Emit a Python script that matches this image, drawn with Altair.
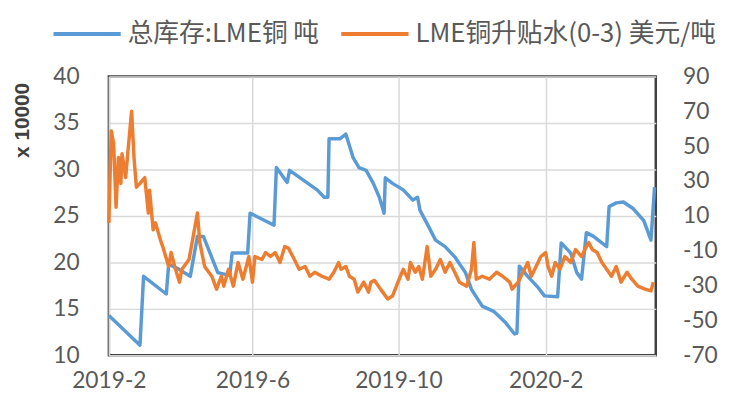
import altair as alt
import pandas as pd

series_names = ["总库存:LME铜 吨", "LME铜升贴水(0-3) 美元/吨"]
series_colors = ["#5B9BD5", "#ED7D31"]

# LME copper total stocks, x 10000 t (left axis)
stock_points = [
    ("2019-02-01", 14.3), ("2019-02-27", 11.1), ("2019-03-02", 18.5), ("2019-03-21", 16.6),
    ("2019-03-23", 19.8), ("2019-03-31", 19.3), ("2019-04-10", 18.5), ("2019-04-16", 22.8),
    ("2019-04-21", 22.8), ("2019-05-03", 18.9), ("2019-05-13", 18.6), ("2019-05-15", 21.0),
    ("2019-05-28", 21.0), ("2019-05-30", 25.3), ("2019-06-19", 24.0), ("2019-06-21", 30.2),
    ("2019-06-30", 28.6), ("2019-07-02", 29.9), ("2019-07-25", 27.8), ("2019-07-31", 27.0),
    ("2019-08-03", 27.0), ("2019-08-04", 33.3), ("2019-08-13", 33.3), ("2019-08-18", 33.8),
    ("2019-08-24", 31.3), ("2019-08-29", 30.2), ("2019-09-04", 29.9), ("2019-09-10", 28.5),
    ("2019-09-15", 27.0), ("2019-09-19", 25.3), ("2019-09-20", 29.1), ("2019-09-26", 28.5),
    ("2019-10-05", 27.8), ("2019-10-13", 26.7), ("2019-10-17", 27.0), ("2019-10-19", 25.6),
    ("2019-10-26", 23.9), ("2019-11-01", 22.4), ("2019-11-09", 21.7), ("2019-11-17", 20.6),
    ("2019-11-26", 18.9), ("2019-12-01", 17.1), ("2019-12-10", 15.3), ("2019-12-20", 14.7),
    ("2019-12-29", 13.6), ("2020-01-06", 12.3), ("2020-01-08", 12.4), ("2020-01-10", 19.6),
    ("2020-01-17", 18.5), ("2020-01-25", 17.4), ("2020-01-31", 16.4), ("2020-02-11", 16.3),
    ("2020-02-14", 22.1), ("2020-02-22", 21.0), ("2020-02-27", 18.9), ("2020-03-02", 18.2),
    ("2020-03-06", 23.2), ("2020-03-12", 22.8), ("2020-03-23", 21.7), ("2020-03-25", 26.0),
    ("2020-03-31", 26.4), ("2020-04-06", 26.5), ("2020-04-14", 25.8), ("2020-04-23", 24.5),
    ("2020-04-29", 22.4), ("2020-05-02", 28.1),
]

# LME copper 0-3 contango/backwardation, USD/t (right axis)
spread_points = [
    ("2019-02-01", 6.0), ("2019-02-03", 58.8), ("2019-02-05", 51.4), ("2019-02-07", 15.0),
    ("2019-02-09", 43.5), ("2019-02-11", 28.7), ("2019-02-12", 45.7), ("2019-02-15", 32.0),
    ("2019-02-17", 47.5), ("2019-02-20", 70.1), ("2019-02-22", 43.5), ("2019-02-24", 26.5),
    ("2019-02-27", 28.7), ("2019-03-03", 32.0), ("2019-03-06", 11.7), ("2019-03-07", 24.8),
    ("2019-03-10", 2.0), ("2019-03-12", 6.0), ("2019-03-16", -3.6), ("2019-03-18", -7.6),
    ("2019-03-23", -19.0), ("2019-03-25", -11.0), ("2019-03-28", -19.0), ("2019-04-01", -28.0),
    ("2019-04-03", -20.6), ("2019-04-09", -15.0), ("2019-04-13", 0.3), ("2019-04-16", 11.7),
    ("2019-04-18", -5.3), ("2019-04-22", -19.0), ("2019-04-28", -24.6), ("2019-05-02", -32.0),
    ("2019-05-06", -24.6), ("2019-05-08", -30.3), ("2019-05-12", -20.6), ("2019-05-16", -30.3),
    ("2019-05-20", -16.7), ("2019-05-24", -26.3), ("2019-05-29", -13.3), ("2019-06-01", -28.0),
    ("2019-06-03", -13.3), ("2019-06-09", -15.0), ("2019-06-12", -11.0), ("2019-06-16", -13.3),
    ("2019-06-20", -11.0), ("2019-06-24", -16.7), ("2019-06-28", -7.6), ("2019-07-01", -8.5),
    ("2019-07-06", -15.0), ("2019-07-10", -20.6), ("2019-07-15", -19.0), ("2019-07-19", -24.6),
    ("2019-07-23", -22.3), ("2019-07-29", -24.6), ("2019-08-04", -26.3), ("2019-08-08", -22.3),
    ("2019-08-12", -16.7), ("2019-08-14", -20.6), ("2019-08-18", -19.0), ("2019-08-21", -24.6),
    ("2019-08-25", -26.3), ("2019-08-28", -33.7), ("2019-09-02", -28.0), ("2019-09-06", -33.7),
    ("2019-09-08", -28.0), ("2019-09-11", -27.0), ("2019-09-16", -32.0), ("2019-09-22", -37.7),
    ("2019-09-26", -36.0), ("2019-09-30", -29.0), ("2019-10-05", -20.6), ("2019-10-09", -26.3),
    ("2019-10-11", -16.7), ("2019-10-15", -22.3), ("2019-10-18", -19.0), ("2019-10-21", -26.3),
    ("2019-10-25", -7.6), ("2019-10-28", -24.6), ("2019-11-01", -20.6), ("2019-11-05", -15.0),
    ("2019-11-09", -22.3), ("2019-11-13", -16.7), ("2019-11-17", -22.3), ("2019-11-21", -28.0),
    ("2019-11-27", -30.3), ("2019-12-01", -20.6), ("2019-12-03", -5.3), ("2019-12-05", -26.3),
    ("2019-12-10", -24.6), ("2019-12-16", -26.3), ("2019-12-22", -22.3), ("2019-12-27", -24.6),
    ("2020-01-02", -28.0), ("2020-01-04", -32.0), ("2020-01-09", -28.0), ("2020-01-13", -22.3),
    ("2020-01-17", -16.7), ("2020-01-20", -24.6), ("2020-01-24", -19.0), ("2020-01-28", -13.3),
    ("2020-02-01", -11.0), ("2020-02-03", -19.0), ("2020-02-06", -24.6), ("2020-02-09", -16.7),
    ("2020-02-13", -20.6), ("2020-02-17", -13.3), ("2020-02-22", -16.7), ("2020-02-26", -9.3),
    ("2020-03-02", -13.3), ("2020-03-06", -7.6), ("2020-03-08", -5.3), ("2020-03-11", -9.3),
    ("2020-03-15", -11.0), ("2020-03-19", -16.7), ("2020-03-23", -20.6), ("2020-03-27", -24.6),
    ("2020-03-31", -19.0), ("2020-04-04", -28.0), ("2020-04-09", -22.3), ("2020-04-13", -26.3),
    ("2020-04-18", -30.3), ("2020-04-24", -32.0), ("2020-04-29", -33.0), ("2020-05-01", -28.0),
]

left_ticks = [10, 15, 20, 25, 30, 35, 40]
right_ticks = [-70, -50, -30, -10, 10, 30, 50, 70, 90]

stock_df = pd.DataFrame(stock_points, columns=["date", "value"])
stock_df["series"] = series_names[0]
spread_df = pd.DataFrame(spread_points, columns=["date", "value"])
spread_df["series"] = series_names[1]

x_ticks = [
    alt.DateTime(year=2019, month=2, date=1, utc=True),
    alt.DateTime(year=2019, month=6, date=1, utc=True),
    alt.DateTime(year=2019, month=10, date=1, utc=True),
    alt.DateTime(year=2020, month=2, date=1, utc=True),
]
x_domain = [
    alt.DateTime(year=2019, month=2, date=1, utc=True),
    alt.DateTime(year=2020, month=5, date=3, utc=True),
]

LABEL_FONT = "Lato"
LABEL_COLOR = "#595959"

x_enc = alt.X(
    "date:T",
    scale=alt.Scale(type="utc", domain=x_domain, nice=False),
    axis=alt.Axis(
        values=x_ticks, title=None,
        labelExpr="utcyear(datum.value) + '-' + (utcmonth(datum.value) + 1)",
        grid=True, gridColor="#D9D9D9", gridWidth=1.5,
        ticks=False, domain=False, labelFlush=False, labelOverlap=False,
        labelFont=LABEL_FONT, labelFontSize=23, labelColor=LABEL_COLOR, labelPadding=15,
    ),
)

color_enc = alt.Color(
    "series:N",
    scale=alt.Scale(domain=series_names, range=series_colors),
    legend=alt.Legend(
        orient="none", legendX=-58, legendY=-58, direction="horizontal", title=None,
        symbolType="stroke", symbolSize=4624, symbolStrokeWidth=4,
        labelFont="Noto Sans CJK SC", labelFontSize=26, labelColor=LABEL_COLOR,
        labelLimit=0, columnPadding=20, labelOffset=5, padding=0, clipHeight=30,
    ),
)

left = alt.Chart(stock_df).mark_line(strokeWidth=3.5, strokeJoin="round").encode(
    x=x_enc,
    y=alt.Y(
        "value:Q",
        scale=alt.Scale(domain=[10, 40], nice=False, zero=False),
        axis=alt.Axis(
            values=left_ticks, orient="left", grid=True, gridColor="#D9D9D9", gridWidth=1.5,
            ticks=False, domain=False, labelFlush=False,
            labelExpr="datum.value + ''",
            labelFont=LABEL_FONT, labelFontSize=23, labelColor=LABEL_COLOR, labelPadding=30,
            title="x 10000", titleFont="Liberation Sans", titleFontSize=21, titleFontWeight="bold",
            titleColor="#404040", titleAngle=270, titleAlign="right", titleBaseline="middle",
            titleX=-87, titleY=6,
        ),
    ),
    color=color_enc,
)

right = alt.Chart(spread_df).mark_line(strokeWidth=3.5, strokeJoin="round").encode(
    x=x_enc,
    y=alt.Y(
        "value:Q",
        scale=alt.Scale(domain=[-70, 90], nice=False, zero=False),
        axis=alt.Axis(
            values=right_ticks, orient="right", grid=False,
            ticks=False, domain=False, labelFlush=False,
            labelExpr="datum.value + ''",
            labelFont=LABEL_FONT, labelFontSize=23, labelColor=LABEL_COLOR, labelPadding=27,
            title=None,
        ),
    ),
    color=color_enc,
)

chart = (
    alt.layer(left, right)
    .resolve_scale(y="independent")
    .properties(
        width=553, height=282,
        autosize=alt.AutoSizeParams(type="none"),
        padding={"left": 102, "top": 67, "right": 68, "bottom": 52},
        background="white",
    )
    .configure_view(stroke="#404040", strokeWidth=2.5)
)

chart.save("out.html", embed_options={"renderer": "svg", "actions": False})
